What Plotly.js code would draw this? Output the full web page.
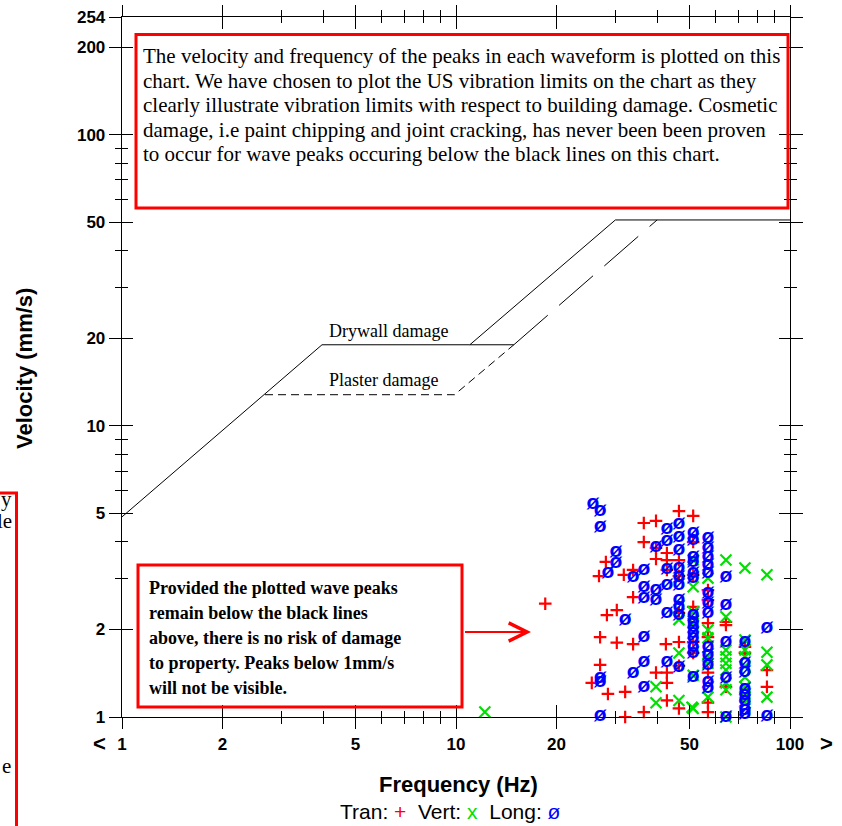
<!DOCTYPE html>
<html>
<head>
<meta charset="utf-8">
<script src="https://cdn.plot.ly/plotly-3.0.1.min.js"></script>
<style>html,body{margin:0;padding:0;background:#fff;}#chart{width:842px;height:826px;}</style>
</head>
<body>
<div id="chart"></div>
<script>
// ---------- data ----------
const xTickVals = [1, 2, 5, 10, 20, 50, 100];
const xTickText = ["1", "2", "5", "10", "20", "50", "100"];
const xMinorVals = [3, 4, 6, 7, 8, 9, 30, 40, 60, 70, 80, 90];
const yTickVals = [1, 2, 5, 10, 20, 50, 100, 200, 254];
const yTickText = ["1", "2", "5", "10", "20", "50", "100", "200", "254"];
const yMinorVals = [3, 4, 6, 7, 8, 9, 30, 40, 60, 70, 80, 90];

// US (USBM) vibration limit lines
const drywallFreq = [1, 3.97, 11, 30, 100];
const drywallVel  = [4.87, 19, 19, 51, 51];
const drywallFlatFreq = [11, 14.9];
const drywallFlatVel  = [19, 19];
const plasterFreq = [2.68, 9.9, 14.9];
const plasterVel  = [12.8, 12.8, 19];
const plasterRiseFreq = [14.9, 40];
const plasterRiseVel  = [19, 51];

// Tran (+)
const tranFreq = [18.5, 46.5, 51.3, 36.5, 39.7, 36.5, 39.7, 39.7, 42.8, 42.8, 42.8, 46.5, 46.5, 28.1, 26.8, 31.8, 33.9, 33.9, 28.3, 30.3, 27.0, 30.3, 33.9, 42.5, 46.5, 46.5, 27.0, 25.5, 39.7, 42.8, 42.8, 28.5, 32.1, 36.5, 32.1, 42.8, 46.5, 51.3, 51.3, 51.3, 51.3, 51.3, 56.8, 56.8, 56.8, 56.8, 56.8, 56.8, 56.8, 64.3, 64.3, 64.3, 73.3, 73.3, 85.3, 85.3, 115.6, 46.5];
const tranVel  = [2.45, 5.10, 4.91, 4.64, 4.72, 3.99, 3.81, 3.49, 3.66, 3.46, 3.20, 3.46, 3.05, 3.41, 3.05, 3.08, 3.20, 2.58, 2.24, 2.33, 1.88, 1.80, 1.78, 1.78, 1.81, 1.50, 1.51, 1.31, 1.42, 1.42, 1.31, 1.20, 1.22, 1.04, 1.00, 1.14, 1.07, 3.99, 3.08, 2.39, 1.81, 1.66, 2.73, 2.52, 2.10, 1.88, 1.42, 1.12, 1.04, 2.12, 2.07, 1.27, 1.74, 1.66, 1.45, 1.27, 1.30, 2.28];

// Vert (x)
const vertFreq = [12.2, 46.5, 39.7, 39.7, 46.5, 46.5, 50.9, 51.3, 51.3, 51.3, 51.3, 51.3, 51.3, 56.8, 56.8, 56.8, 56.8, 56.8, 56.8, 64.3, 64.3, 64.3, 64.3, 64.3, 64.3, 64.3, 64.3, 64.3, 73.3, 73.3, 73.3, 73.3, 73.3, 73.3, 73.3, 73.3, 73.3, 85.3, 85.3, 85.3, 85.3, 113];
const vertVel  = [1.04, 1.66, 1.27, 1.12, 1.14, 2.16, 1.08, 2.80, 2.30, 2.10, 1.39, 1.07, 3.46, 3.00, 1.99, 1.87, 1.61, 1.53, 1.17, 3.46, 2.21, 1.70, 1.61, 1.53, 1.45, 1.31, 1.24, 1.00, 3.25, 1.84, 1.70, 1.61, 1.49, 1.37, 1.27, 1.17, 1.12, 3.08, 1.67, 1.51, 1.17, 1.39];

// Long (ø)
const longFreq = [25.7, 27.0, 27.0, 30.1, 30.1, 28.5, 33.9, 36.5, 36.5, 39.7, 36.5, 39.7, 39.7, 42.8, 42.8, 42.8, 42.8,
  46.5, 46.5, 46.5, 46.5, 46.5, 46.5, 46.5, 46.5, 46.5,
  42.8, 32.1, 36.5, 36.5, 33.9, 36.5, 42.8, 46.5, 27.0, 27.0, 27.0,
  51.3, 51.3, 51.3, 51.3, 51.3, 51.3, 51.3, 51.3, 51.3, 51.3, 51.3, 51.3, 51.3, 51.3,
  56.8, 56.8, 56.8, 56.8, 56.8, 56.8, 56.8, 56.8, 56.8, 56.8, 56.8, 56.8, 56.8,
  64.3, 64.3, 64.3, 64.3, 64.3,
  73.3, 73.3, 73.3, 73.3, 73.3, 73.3, 73.3, 73.3,
  85.3, 85.3];
const longVel = [5.40, 5.10, 4.50, 3.69, 3.38, 3.12, 3.03, 3.20, 2.80, 2.73, 2.56, 2.52, 3.84, 4.43, 4.03, 3.23, 2.84,
  4.61, 4.15, 3.75, 3.25, 3.03, 2.84, 2.52, 2.39, 2.24,
  2.28, 2.16, 1.88, 1.55, 1.42, 1.27, 1.55, 1.49, 1.36, 1.32, 1.01,
  4.29, 4.06, 3.55, 3.41, 3.12, 3.00, 2.24, 2.12, 2.04, 1.94, 1.87, 1.74, 1.66, 1.37,
  4.12, 3.81, 3.55, 3.33, 3.12, 2.67, 2.46, 2.28, 1.74, 1.63, 1.51, 1.32, 1.26,
  3.03, 2.43, 1.81, 1.36, 1.00,
  1.82, 1.53, 1.43, 1.25, 1.19, 1.14, 1.06, 1.03,
  2.02, 1.01];

const topLines = [
  "The velocity and frequency of the peaks in each waveform is plotted on this",
  "chart. We have chosen to plot the US vibration limits on the chart as they",
  "clearly illustrate vibration limits with respect to building damage. Cosmetic",
  "damage, i.e paint chipping and joint cracking, has never been been proven",
  "to occur for wave peaks occuring below the black lines on this chart."
];
const bottomLines = [
  "Provided the plotted wave peaks",
  "remain below the black lines",
  "above, there is no risk of damage",
  "to property. Peaks below 1mm/s",
  "will not be visible."
];

// ---------- layout helpers ----------
const W = 842, H = 826;
const M = {l: 122, r: 52, t: 17, b: 109};
const PW = W - M.l - M.r, PH = H - M.t - M.b;
const px = x => (x - M.l) / PW;
const py = y => (M.t + PH - y) / PH;

const SANS = "Liberation Sans, Arial, sans-serif";
const SERIF = "Liberation Serif, Times New Roman, serif";
const RED = "#ff0000", GREEN = "#00e000", BLUE = "#0000ff";

const tickFont = {family: SANS, size: 17, color: "#000", weight: "bold"};

function axisBase(extra) {
  return Object.assign({
    showgrid: false, zeroline: false, fixedrange: true,
    tickmode: "array", tickcolor: "#000", tickwidth: 1
  }, extra);
}

const data = [
  {x: drywallFreq, y: drywallVel, mode: "lines", line: {color: "#000", width: 1}, hoverinfo: "skip"},
  {x: drywallFlatFreq, y: drywallFlatVel, mode: "lines", line: {color: "#000", width: 1}, hoverinfo: "skip"},
  {x: plasterFreq, y: plasterVel, mode: "lines", line: {color: "#000", width: 1, dash: "8px,5px"}, hoverinfo: "skip"},
  {x: plasterRiseFreq, y: plasterRiseVel, mode: "lines", line: {color: "#000", width: 1, dash: "45px,15px"}, hoverinfo: "skip"},
  {name: "Tran", x: tranFreq, y: tranVel, mode: "markers", cliponaxis: false,
   marker: {symbol: "cross-thin-open", size: 9, line: {color: RED, width: 2.2}, color: RED}},
  {name: "Vert", x: vertFreq, y: vertVel, mode: "markers", cliponaxis: false,
   marker: {symbol: "x-thin-open", size: 11, line: {color: GREEN, width: 2.2}, color: GREEN}},
  {name: "Long", x: longFreq, y: longVel, mode: "text", texttemplate: "ø", textposition: "middle center",
   cliponaxis: false, textfont: {family: SANS, size: 21, color: BLUE, weight: "bold"}},
  {x: [], y: [], xaxis: "x2", yaxis: "y2", mode: "markers", hoverinfo: "skip"}
];

const annotations = [];
topLines.forEach((t, i) => {
  annotations.push({text: t, xref: "paper", yref: "paper", x: px(141), y: py(56 + i * 24.5),
    xanchor: "left", yanchor: "middle", showarrow: false,
    font: {family: SERIF, size: 21, color: "#000"}});
});
bottomLines.forEach((t, i) => {
  annotations.push({text: t, xref: "paper", yref: "paper", x: px(147), y: py(588 + i * 25),
    xanchor: "left", yanchor: "middle", showarrow: false,
    font: {family: SERIF, size: 18, color: "#000", weight: "bold"}});
});
annotations.push(
  {text: "Drywall damage", xref: "paper", yref: "paper", x: px(388), y: py(331), xanchor: "center", yanchor: "middle",
   showarrow: false, font: {family: SERIF, size: 18, color: "#000"}},
  {text: "Plaster damage", xref: "paper", yref: "paper", x: px(383), y: py(380), xanchor: "center", yanchor: "middle",
   showarrow: false, font: {family: SERIF, size: 18, color: "#000"}},
  {text: " ", xref: "paper", yref: "paper", x: px(531), y: py(632), ax: -69, ay: 0,
   showarrow: true, arrowhead: 5, arrowsize: 1.8, arrowwidth: 2, arrowcolor: RED},
  {text: "Frequency (Hz)", xref: "paper", yref: "paper", x: px(459), y: py(784), xanchor: "center", yanchor: "middle",
   showarrow: false, font: {family: SANS, size: 22, color: "#000", weight: "bold"}},
  {text: "Velocity (mm/s)", xref: "paper", yref: "paper", x: px(24), y: py(369), xanchor: "center", yanchor: "middle",
   textangle: -90, showarrow: false, font: {family: SANS, size: 22, color: "#000", weight: "bold"}},
  {text: "Tran: <span style='color:" + RED + "'>+</span>\u00a0 Vert: <span style='color:" + GREEN + "'>x</span>\u00a0 Long: <span style='color:" + BLUE + "'>ø</span>",
   xref: "paper", yref: "paper", x: px(450), y: py(811), xanchor: "center", yanchor: "middle",
   showarrow: false, font: {family: SANS, size: 21, color: "#000"}},
  {text: "<", xref: "paper", yref: "paper", x: px(99), y: py(744), xanchor: "center", yanchor: "middle",
   showarrow: false, font: {family: SANS, size: 22, color: "#000", weight: "bold"}},
  {text: ">", xref: "paper", yref: "paper", x: px(826), y: py(744), xanchor: "center", yanchor: "middle",
   showarrow: false, font: {family: SANS, size: 22, color: "#000", weight: "bold"}},
  {text: "y", xref: "paper", yref: "paper", x: px(14), y: py(499), xanchor: "right", yanchor: "middle",
   showarrow: false, font: {family: SERIF, size: 21, color: "#000"}},
  {text: "le", xref: "paper", yref: "paper", x: px(14), y: py(521), xanchor: "right", yanchor: "middle",
   showarrow: false, font: {family: SERIF, size: 21, color: "#000"}},
  {text: "e", xref: "paper", yref: "paper", x: px(13), y: py(766), xanchor: "right", yanchor: "middle",
   showarrow: false, font: {family: SERIF, size: 21, color: "#000"}}
);

const shapes = [
  {type: "rect", xref: "paper", yref: "paper", x0: px(136), x1: px(788), y0: py(208), y1: py(34.5),
   line: {color: RED, width: 3}, fillcolor: "rgba(0,0,0,0)"},
  {type: "rect", xref: "paper", yref: "paper", x0: px(138), x1: px(462), y0: py(707), y1: py(565),
   line: {color: RED, width: 3}, fillcolor: "rgba(0,0,0,0)"},
  {type: "rect", xref: "paper", yref: "paper", x0: px(-300), x1: px(16.5), y0: py(840), y1: py(493),
   line: {color: RED, width: 3}, fillcolor: "rgba(0,0,0,0)"}
];

const layout = {
  width: W, height: H,
  margin: M,
  paper_bgcolor: "#fff", plot_bgcolor: "rgba(0,0,0,0)",
  showlegend: false, hovermode: false,
  font: {family: SANS, color: "#000"},
  xaxis: axisBase({type: "log", range: [0, 2], tickvals: xTickVals, ticktext: xTickText,
    ticks: "outside", ticklen: 11, showline: true, linecolor: "#000", linewidth: 1.3, mirror: "allticks",
    tickfont: tickFont,
    minor: {tickmode: "array", tickvals: xMinorVals, ticks: "outside", ticklen: 6, tickwidth: 1, tickcolor: "#000", showgrid: false}}),
  yaxis: axisBase({type: "log", range: [0, Math.log10(254)], tickvals: yTickVals, ticktext: yTickText,
    ticks: "outside", ticklen: 12, showline: true, linecolor: "#000", linewidth: 1.3, mirror: "allticks",
    tickfont: tickFont,
    minor: {tickmode: "array", tickvals: yMinorVals, ticks: "outside", ticklen: 6, tickwidth: 1, tickcolor: "#000", showgrid: false}}),
  xaxis2: axisBase({type: "log", range: [0, 2], overlaying: "x", anchor: "y2", side: "bottom",
    tickvals: xTickVals, ticks: "inside", ticklen: 12, showticklabels: false, showline: false, mirror: "allticks",
    minor: {tickmode: "array", tickvals: xMinorVals, ticks: "inside", ticklen: 6, tickwidth: 1, tickcolor: "#000", showgrid: false}}),
  yaxis2: axisBase({type: "log", range: [0, Math.log10(254)], overlaying: "y", anchor: "x2", side: "left",
    tickvals: yTickVals, ticks: "inside", ticklen: 11, showticklabels: false, showline: false, mirror: "allticks",
    minor: {tickmode: "array", tickvals: yMinorVals, ticks: "inside", ticklen: 6, tickwidth: 1, tickcolor: "#000", showgrid: false}}),
  annotations: annotations,
  shapes: shapes
};

Plotly.newPlot("chart", data, layout, {displayModeBar: false, staticPlot: true});
</script>
</body>
</html>
